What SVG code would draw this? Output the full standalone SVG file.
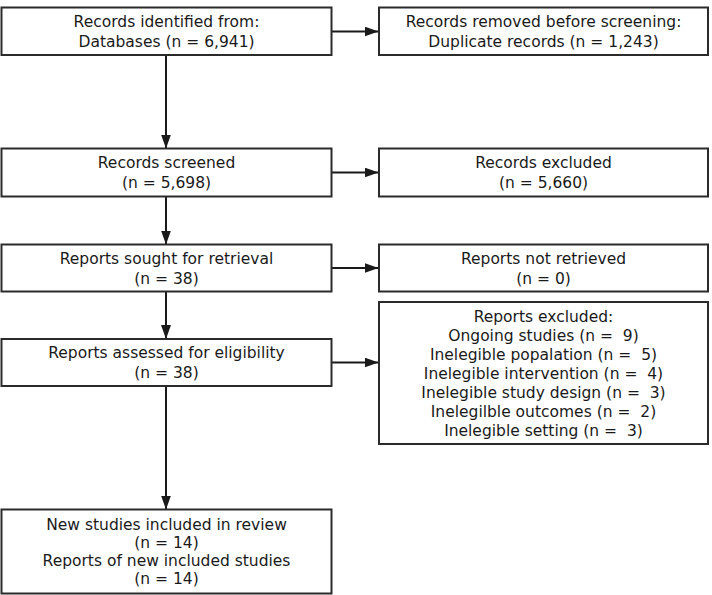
<svg xmlns="http://www.w3.org/2000/svg" width="712" height="595" viewBox="0 0 712 595">
<style>
.box{fill:#fff;stroke:#2b2b2b;stroke-width:2}
.t{font-family:"DejaVu Sans",Verdana,sans-serif;font-size:15.5px;fill:#1a1a1a;text-anchor:middle;white-space:pre}
.c{stroke:#1a1a1a;stroke-width:2;fill:none}
</style>
<defs>
<marker id="ah" markerUnits="userSpaceOnUse" markerWidth="14" markerHeight="10" refX="14" refY="5" orient="auto">
<path d="M0,0 L14,5 L0,10 z" fill="#1a1a1a"/>
</marker>
</defs>
<rect width="712" height="595" fill="#fff"/>
<g id="connectors">
<line class="c" x1="166" y1="55" x2="166" y2="148.5" marker-end="url(#ah)"/>
<line class="c" x1="166" y1="197" x2="166" y2="244.5" marker-end="url(#ah)"/>
<line class="c" x1="166" y1="292" x2="166" y2="339" marker-end="url(#ah)"/>
<line class="c" x1="166" y1="386.5" x2="166" y2="509.5" marker-end="url(#ah)"/>
<line class="c" x1="332" y1="31.5" x2="378.5" y2="31.5" marker-end="url(#ah)"/>
<line class="c" x1="332" y1="172.5" x2="378.5" y2="172.5" marker-end="url(#ah)"/>
<line class="c" x1="332" y1="268" x2="378.5" y2="268" marker-end="url(#ah)"/>
<line class="c" x1="332" y1="362.5" x2="378.5" y2="362.5" marker-end="url(#ah)"/>
</g>
<g id="identified">
<rect class="box" x="1.5" y="7.5" width="330" height="47.5"/>
<text class="t" x="166.5" y="27">Records identified from:</text>
<text class="t" x="166.5" y="47">Databases (n = 6,941)</text>
</g>
<g id="removed">
<rect class="box" x="379" y="7.5" width="329" height="47.5"/>
<text class="t" x="543.5" y="27">Records removed before screening:</text>
<text class="t" x="543.5" y="47">Duplicate records (n = 1,243)</text>
</g>
<g id="screened">
<rect class="box" x="1.5" y="148.5" width="330" height="48"/>
<text class="t" x="166.5" y="168">Records screened</text>
<text class="t" x="166.5" y="188">(n = 5,698)</text>
</g>
<g id="excluded">
<rect class="box" x="379" y="148.5" width="329" height="48"/>
<text class="t" x="543.5" y="168">Records excluded</text>
<text class="t" x="543.5" y="188">(n = 5,660)</text>
</g>
<g id="sought">
<rect class="box" x="1.5" y="244.5" width="330" height="47"/>
<text class="t" x="166.5" y="263.5">Reports sought for retrieval</text>
<text class="t" x="166.5" y="283.5">(n = 38)</text>
</g>
<g id="notretrieved">
<rect class="box" x="379" y="244.5" width="329" height="47"/>
<text class="t" x="543.5" y="263.5">Reports not retrieved</text>
<text class="t" x="543.5" y="283.5">(n = 0)</text>
</g>
<g id="assessed">
<rect class="box" x="1.5" y="339" width="330" height="47"/>
<text class="t" x="166.5" y="357.5">Reports assessed for eligibility</text>
<text class="t" x="166.5" y="377.5">(n = 38)</text>
</g>
<g id="reportsexcluded">
<rect class="box" x="379" y="302" width="329" height="142"/>
<text class="t" x="543.5" y="321.5">Reports excluded:</text>
<text class="t" x="543.5" y="340.5">Ongoing studies (n =  9)</text>
<text class="t" x="543.5" y="359.5">Inelegible popalation (n =  5)</text>
<text class="t" x="543.5" y="378.5">Inelegible intervention (n =  4)</text>
<text class="t" x="543.5" y="397.5">Inelegible study design (n =  3)</text>
<text class="t" x="543.5" y="416.5">Inelegilble outcomes (n =  2)</text>
<text class="t" x="543.5" y="435.5">Inelegible setting (n =  3)</text>
</g>
<g id="included">
<rect class="box" x="1.5" y="509.5" width="330" height="84"/>
<text class="t" x="166.5" y="530">New studies included in review</text>
<text class="t" x="166.5" y="548">(n = 14)</text>
<text class="t" x="166.5" y="566">Reports of new included studies</text>
<text class="t" x="166.5" y="584">(n = 14)</text>
</g>
</svg>
